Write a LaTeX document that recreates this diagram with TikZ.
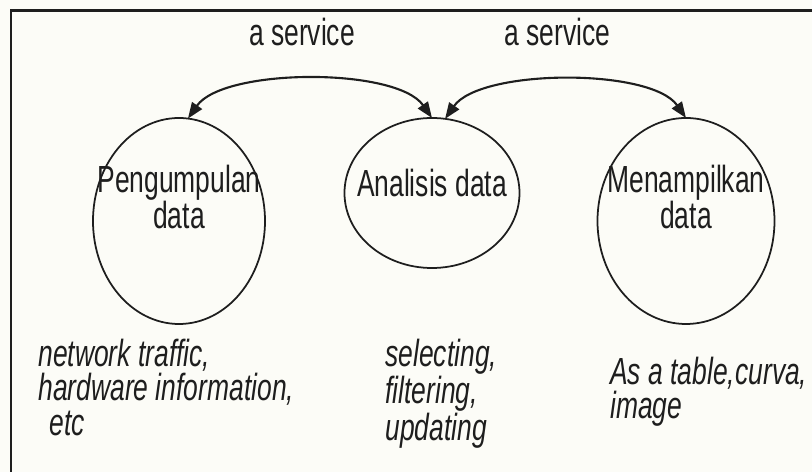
\documentclass[tikz,border=0pt]{standalone}
\usepackage{fontspec}
\setmainfont{Liberation Sans}[FakeStretch=0.70]
\usetikzlibrary{arrows.meta,positioning,shapes.geometric}
\definecolor{paper}{RGB}{252,252,247}
\definecolor{ink}{RGB}{30,30,30}
\newcommand{\diagfont}{\fontsize{21.5}{19.5}\selectfont}

\begin{document}
\begin{tikzpicture}[
  stage/.style={ellipse, draw=ink, line width=1pt, minimum width=3.44cm, minimum height=4.12cm, inner sep=0pt, outer sep=0pt},
  stagetext/.style={align=center, font=\diagfont, text=ink, inner sep=0pt},
  arrow/.style={{Triangle[length=0.32cm, width=0.24cm]}-{Triangle[length=0.32cm, width=0.24cm]}, line width=1.2pt, draw=ink},
  label/.style={font=\diagfont, text=ink},
  note/.style={align=left, anchor=north west, inner sep=0pt, font=\diagfont\itshape, text=ink}
]
  % Paper and frame
  \fill[paper] (0, 0) rectangle (16.24, 9.44);
  \useasboundingbox (0, 0) rectangle (16.24, 9.44);
  \draw[line width=1.7pt, ink] (16.24, 9.22) -- (0.22, 9.22) -- (0.22, 0);

  % Stages
  \node[stage] (pengumpulan) at (3.58, 5.02) {};
  \node[stage, minimum width=3.5cm, minimum height=3cm] (analisis) at (8.64, 5.58) {};
  \node[stage, minimum width=3.54cm] (menampilkan) at (13.72, 5.02) {};

  \node[stagetext] (pengumpulanText) at (3.58, 5.5) {Pengumpulan\\data};
  \node[stagetext] (analisisText) at (8.64, 5.78) {Analisis data};
  \node[stagetext] (menampilkanText) at (13.72, 5.5) {Menampilkan\\data};

  % Services
  \draw[arrow] (pengumpulan.85) to[out=55, in=125, looseness=0.65] node[midway, above=0.55cm, xshift=-0.16cm, label] (serviceA) {a service} (analisis.90);
  \draw[arrow] (analisis.80) to[out=55, in=125, looseness=0.65] node[midway, above=0.55cm, xshift=-0.16cm, label] (serviceB) {a service} (menampilkan.north);

  % Notes
  \node[note] (noteKumpul) at (0.76, 2.66) {network traffic,\\hardware information,\\\hspace*{0.3em}etc};
  \node[note] (noteAnalisis) at (7.7, 2.66) {selecting,\\filtering,\\updating};
  \node[note] (noteTampil) at (12.2, 2.3) {As a table,curva,\\image};
\end{tikzpicture}
\end{document}
